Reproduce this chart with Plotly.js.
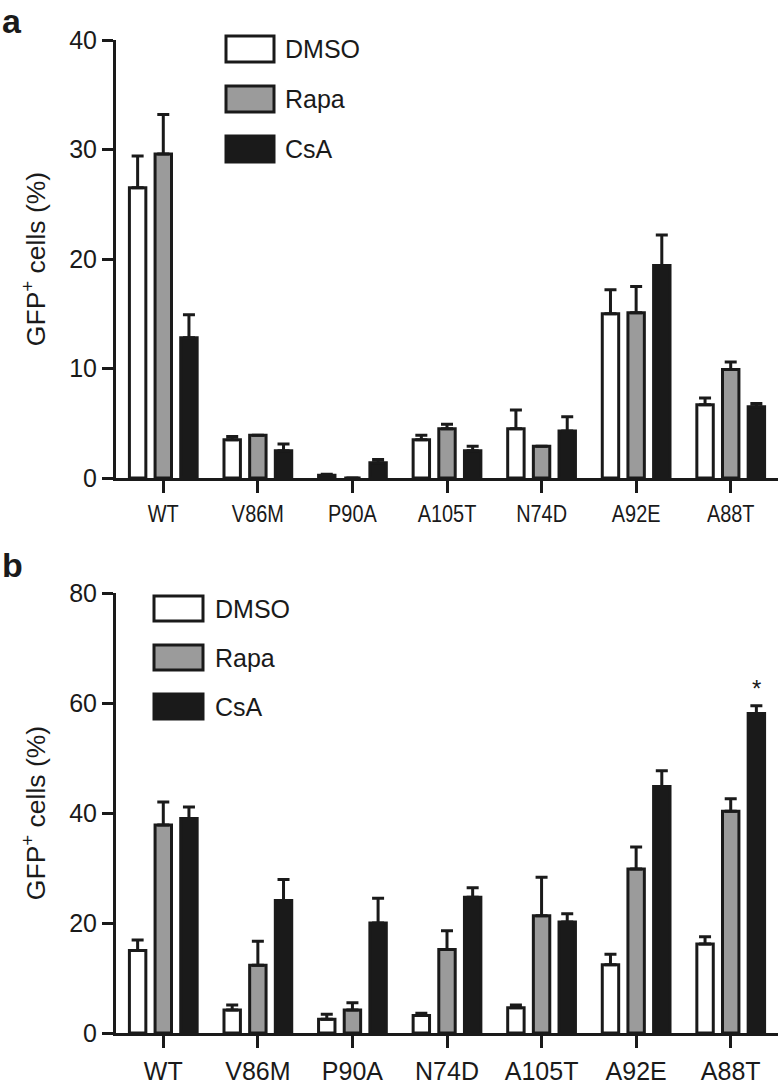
<!DOCTYPE html>
<html>
<head>
<meta charset="utf-8">
<script src="https://cdn.plot.ly/plotly-3.0.1.min.js"></script>
<style>html,body{margin:0;padding:0;background:#fff;}#chart{width:783px;height:1086px;}</style>
</head>
<body>
<div id="chart"></div>
<script>
// ---- Data ----
const seriesNames = ['DMSO', 'Rapa', 'CsA'];

// Panel a
const categoriesA = ['WT', 'V86M', 'P90A', 'A105T', 'N74D', 'A92E', 'A88T'];
const dmsoA    = [26.5, 3.5, 0.25, 3.5, 4.5, 15.0, 6.7];
const dmsoAErr = [2.9, 0.3, 0.1, 0.4, 1.7, 2.2, 0.6];
const rapaA    = [29.6, 3.9, 0.0, 4.5, 2.9, 15.1, 9.9];
const rapaAErr = [3.6, 0.0, 0.0, 0.4, 0.0, 2.4, 0.7];
const csaA     = [12.8, 2.5, 1.4, 2.5, 4.3, 19.4, 6.5];
const csaAErr  = [2.1, 0.6, 0.3, 0.4, 1.3, 2.8, 0.3];
const yTicksA  = [0, 10, 20, 30, 40];

// Panel b
const categoriesB = ['WT', 'V86M', 'P90A', 'N74D', 'A105T', 'A92E', 'A88T'];
const dmsoB    = [15.0, 4.2, 2.5, 3.2, 4.6, 12.4, 16.2];
const dmsoBErr = [1.9, 0.9, 0.9, 0.4, 0.5, 1.9, 1.3];
const rapaB    = [37.8, 12.3, 4.2, 15.2, 21.3, 29.8, 40.3];
const rapaBErr = [4.2, 4.4, 1.3, 3.4, 7.0, 4.0, 2.3];
const csaB     = [39.0, 24.1, 20.0, 24.7, 20.2, 44.8, 58.1];
const csaBErr  = [2.1, 3.8, 4.5, 1.7, 1.5, 2.9, 1.4];
const yTicksB  = [0, 20, 40, 60, 80];
const starCategory = 'A88T';

// ---- Styling ----
const INK = '#1a1a1a';
const GREY = '#9b9b9b';
const fills = ['#ffffff', GREY, INK];
const FONT = '"Liberation Sans", Arial, Helvetica, sans-serif';

const W = 783, H = 1086;
const M = {l: 116, r: 5, t: 40, b: 53};
const plotW = W - M.l - M.r, plotH = H - M.t - M.b;
const px2x = px => (px - M.l) / plotW;
const px2y = py => (H - M.b - py) / plotH;

function makeTraces(cats, vals, errs, xa, ya) {
  return vals.map((v, i) => ({
    type: 'bar',
    name: seriesNames[i],
    x: cats, y: v,
    xaxis: xa, yaxis: ya,
    showlegend: false,
    marker: {color: fills[i], line: {color: INK, width: 3}},
    error_y: {type: 'data', symmetric: false, array: errs[i], arrayminus: errs[i].map(() => 0),
              color: INK, thickness: 3, width: 6},
    hoverinfo: 'x+y'
  }));
}

const traces = [
  ...makeTraces(categoriesA, [dmsoA, rapaA, csaA], [dmsoAErr, rapaAErr, csaAErr], 'x', 'y'),
  ...makeTraces(categoriesB, [dmsoB, rapaB, csaB], [dmsoBErr, rapaBErr, csaBErr], 'x2', 'y2')
];

// Legend drawn as boxes + text (larger symbols than Plotly's legend allows)
function legend(x0, x1, tops, h, textX) {
  const shapes = [], ann = [];
  tops.forEach((t, i) => {
    shapes.push({type: 'rect', xref: 'paper', yref: 'paper',
      x0: px2x(x0), x1: px2x(x1), y0: px2y(t + h), y1: px2y(t),
      fillcolor: fills[i], line: {color: INK, width: 3}});
    ann.push({xref: 'paper', yref: 'paper', x: px2x(textX), y: px2y(t + h / 2),
      xanchor: 'left', yanchor: 'middle', showarrow: false, text: seriesNames[i],
      font: {size: 25, color: INK, family: FONT}});
  });
  return {shapes, ann};
}
const legA = legend(226, 274, [36, 86, 136], 26, 283);
const legB = legend(154, 203, [596, 645, 694], 25, 213);

const starIdx = categoriesB.indexOf(starCategory);

const yTitle = {text: 'GFP<sup>+</sup> cells (%)', font: {size: 26.5, color: INK, family: FONT}, standoff: 16};
const axisCommon = {showline: true, linecolor: INK, linewidth: 3, ticks: 'outside', tickwidth: 3,
  tickcolor: INK, showgrid: false, zeroline: false, fixedrange: true};

const layout = {
  width: W, height: H,
  margin: M,
  paper_bgcolor: '#fff', plot_bgcolor: '#fff',
  font: {family: FONT, color: INK, size: 25},
  barmode: 'group', bargap: 0.186, bargroupgap: 0.36,
  showlegend: false,
  xaxis: Object.assign({}, axisCommon, {anchor: 'y', domain: [0, 1], type: 'category',
    categoryorder: 'array', categoryarray: categoriesA, range: [-0.5, 6.5], ticklen: 12,
    tickfont: {size: 24, color: INK}, ticklabelstandoff: 0}),
  yaxis: Object.assign({}, axisCommon, {anchor: 'x', domain: [px2y(478), px2y(40)], range: [0, 40],
    tickvals: yTicksA, ticklen: 11, tickfont: {size: 25, color: INK}, title: yTitle}),
  xaxis2: Object.assign({}, axisCommon, {anchor: 'y2', domain: [0, 1], type: 'category',
    categoryorder: 'array', categoryarray: categoriesB, range: [-0.5, 6.5], ticklen: 12,
    tickfont: {size: 25, color: INK}, ticklabelstandoff: 2}),
  yaxis2: Object.assign({}, axisCommon, {anchor: 'x2', domain: [0, px2y(593)], range: [0, 80],
    tickvals: yTicksB, ticklen: 11, tickfont: {size: 25, color: INK}, title: yTitle}),
  shapes: [...legA.shapes, ...legB.shapes],
  annotations: [
    ...legA.ann, ...legB.ann,
    {xref: 'paper', yref: 'paper', x: px2x(0), y: px2y(0), xanchor: 'left', yanchor: 'top',
     showarrow: false, text: '<b>a</b>', font: {size: 34, color: INK, family: FONT}},
    {xref: 'paper', yref: 'paper', x: px2x(0), y: px2y(544), xanchor: 'left', yanchor: 'top',
     showarrow: false, text: '<b>b</b>', font: {size: 34, color: INK, family: FONT}},
    {xref: 'x2', yref: 'y2', x: starCategory, y: csaB[starIdx] + csaBErr[starIdx],
     xshift: 26, yshift: 2, xanchor: 'center', yanchor: 'bottom', showarrow: false,
     text: '*', font: {size: 24, color: INK, family: FONT}}
  ]
};

Plotly.newPlot('chart', traces, layout, {displayModeBar: false, staticPlot: true}).then(gd => {
  // Panel a category labels are set in a condensed face in the reference: compress them horizontally.
  gd.querySelectorAll('g.xtick text').forEach(t => {
    const len = t.getComputedTextLength();
    t.setAttribute('textLength', (len * 0.83).toFixed(1));
    t.setAttribute('lengthAdjust', 'spacingAndGlyphs');
  });
});
</script>
</body>
</html>
